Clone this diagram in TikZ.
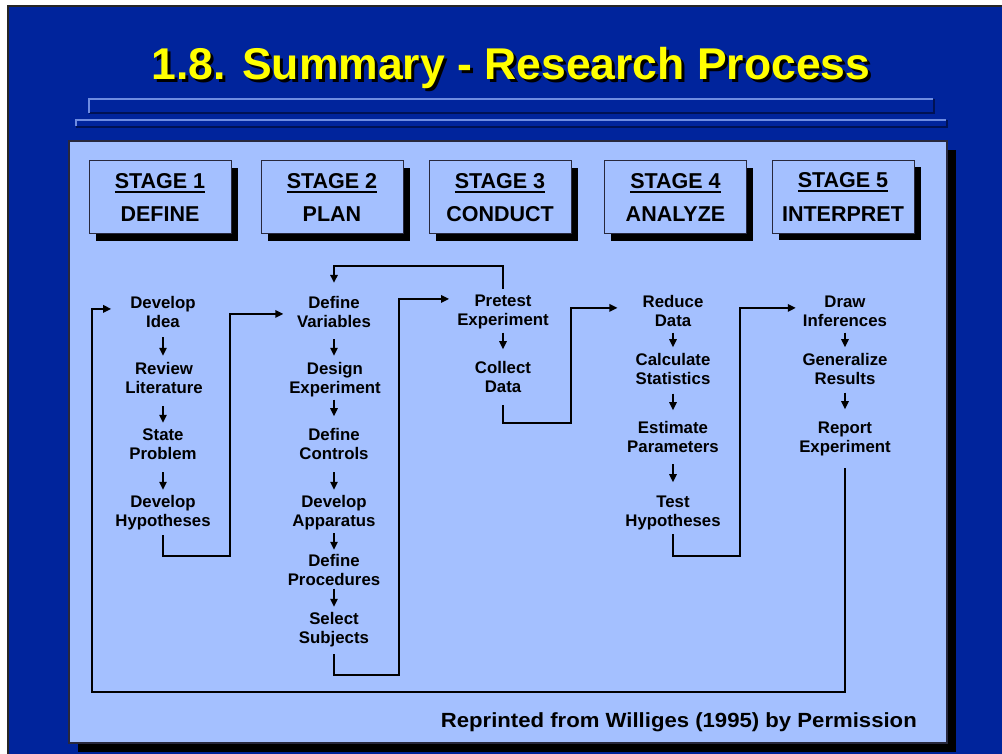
\documentclass[tikz,border=0pt]{standalone}
\usepackage{fontspec}
\setmainfont{Liberation Sans}
\usetikzlibrary{arrows.meta,calc,shadows}

\definecolor{slideblue}{RGB}{0,36,156}
\definecolor{panelblue}{RGB}{164,192,255}
\definecolor{titleyellow}{RGB}{255,255,0}
\definecolor{rulehi}{RGB}{110,140,225}
\definecolor{rulelo}{RGB}{0,18,85}
\definecolor{edgegray}{RGB}{40,40,60}

% underline drawn as a thick rule under the stage number
\newcommand\stageul[1]{\setbox0=\hbox{#1}\rlap{\rule[-4.6pt]{\wd0}{2.2pt}}\box0}
% two centred lines of equal height for the process steps
\newcommand\twol[2]{\strut#1\\\strut#2}

\begin{document}
\begin{tikzpicture}[x=1pt,y=-1pt,
  flow/.style={font=\bfseries\fontsize{16.8}{19.5}\selectfont, align=center, inner sep=0pt},
  stagebox/.style={draw=edgegray, line width=1pt, fill=panelblue,
    minimum width=142pt, minimum height=73pt, inner sep=0pt, align=center,
    font=\bfseries\fontsize{21.5}{33.4}\selectfont,
    drop shadow={shadow xshift=6.5pt, shadow yshift=-7pt, fill=black, opacity=1}},
  flowarr/.style={line width=1.5pt, -{Triangle[length=8pt,width=7.5pt]}},
  link/.style={line width=1.6pt, -{Triangle[length=8pt,width=7.5pt]}},
  hirule/.style={draw=rulehi, line width=1.4pt},
  lorule/.style={draw=rulelo, line width=1.6pt}
]
\useasboundingbox (0,0) rectangle (1002,754);

% slide background and frame
\fill[white] (0,0) rectangle (1002,754);
\fill[slideblue] (8,6) rectangle (1002,754);
\draw[black!85, line width=1.5pt] (8,754) -- (8,6) -- (1002,6);

% title with drop shadow
\node[anchor=base, text=black, font=\bfseries\fontsize{44.5}{50}\selectfont] at (514,83) {1.8. Summary - Research Process};
\node (title) [anchor=base, text=titleyellow, font=\bfseries\fontsize{44.5}{50}\selectfont] at (511,80) {1.8. Summary - Research Process};

% embossed rules under the title
\draw[lorule] (89,113) -- (934,113) -- (934,99);
\draw[hirule] (89,113) -- (89,99) -- (933,99);
\draw[lorule] (76,127) -- (947,127) -- (947,120);
\draw[hirule] (76,126) -- (76,120) -- (946,120);

% content panel
\fill[black] (78,150) rectangle (956,752);
\draw[fill=panelblue, draw=edgegray, line width=1.5pt] (69,141) rectangle (947,743);

% stage headers
\node[stagebox] (s1) at (160,197.5) {\stageul{STAGE 1}\\DEFINE};
\node[stagebox] (s2) at (332,197.5) {\stageul{STAGE 2}\\PLAN};
\node[stagebox] (s3) at (500,197.5) {\stageul{STAGE 3}\\CONDUCT};
\node[stagebox] (s4) at (675.5,197.5) {\stageul{STAGE 4}\\ANALYZE};
\node[stagebox] (s5) at (843,197) {\stageul{STAGE 5}\\INTERPRET};

% stage 1 steps
\node[flow] (idea) at (163,313.9) {\twol{Develop}{Idea}};
\node[flow] (lit)  at (164,379.9) {\twol{Review}{Literature}};
\node[flow] (prob) at (163,445.9) {\twol{State}{Problem}};
\node[flow] (hyp1) at (163,512.9) {\twol{Develop}{Hypotheses}};

% stage 2 steps
\node[flow] (var)    at (334,313.9) {\twol{Define}{Variables}};
\node[flow] (design) at (335,379.9) {\twol{Design}{Experiment}};
\node[flow] (ctrl)   at (334,445.9) {\twol{Define}{Controls}};
\node[flow] (app)    at (334,512.9) {\twol{Develop}{Apparatus}};
\node[flow] (proc)   at (334,571.9) {\twol{Define}{Procedures}};
\node[flow] (subj)   at (334,629.9) {\twol{Select}{Subjects}};

% stage 3 steps
\node[flow] (pre)  at (503,311.9) {\twol{Pretest}{Experiment}};
\node[flow] (data) at (503,378.9) {\twol{Collect}{Data}};

% stage 4 steps
\node[flow] (red)  at (673,312.9) {\twol{Reduce}{Data}};
\node[flow] (stat) at (673,370.9) {\twol{Calculate}{Statistics}};
\node[flow] (est)  at (673,438.9) {\twol{Estimate}{Parameters}};
\node[flow] (test) at (673,512.9) {\twol{Test}{Hypotheses}};

% stage 5 steps
\node[flow] (inf) at (845,312.9) {\twol{Draw}{Inferences}};
\node[flow] (gen) at (845,370.9) {\twol{Generalize}{Results}};
\node[flow] (rep) at (845,438.9) {\twol{Report}{Experiment}};

% arrows within each stage
\draw[flowarr, shorten <=3.7pt, shorten >=4.4pt] (idea.south) -- (idea.south |- lit.north);
\draw[flowarr, shorten <=6.6pt, shorten >=3.4pt] (lit.south -| prob.south) -- (prob.north);
\draw[flowarr, shorten <=6.6pt, shorten >=3.4pt] (prob.south) -- (hyp1.north);

\draw[flowarr, shorten <=5.6pt, shorten >=4.4pt] (var.south) -- (var.south |- design.north);
\draw[flowarr, shorten <=0pt, shorten >=10pt] (design.south -| ctrl.north) -- (ctrl.north);
\draw[flowarr, shorten <=6.6pt, shorten >=3.4pt] (ctrl.south) -- (app.north);
\draw[flowarr, shorten <=0.6pt, shorten >=2.4pt] (app.south) -- (proc.north);
\draw[flowarr, shorten <=-3pt, shorten >=3.4pt] (proc.south) -- (subj.north);

\draw[flowarr, shorten <=1pt, shorten >=10pt] (pre.south) -- (data.north);

\draw[flowarr, shorten <=0pt, shorten >=4pt] (red.south) -- (stat.north);
\draw[flowarr, shorten <=3pt, shorten >=9pt] (stat.south) -- (est.north);
\draw[flowarr, shorten <=5.6pt, shorten >=11pt] (est.south) -- (test.north);

\draw[flowarr, shorten <=0pt, shorten >=4pt] (inf.south) -- (gen.north);
\draw[flowarr, shorten <=2pt, shorten >=10pt] (gen.south) -- (rep.north);

% connectors between stages
\coordinate (k1) at (230,556);
\coordinate (k2) at (399,675);
\coordinate (k3) at (571,423);
\coordinate (k4) at (740,556);
\coordinate (k5) at (92,692);
\coordinate (k6) at (503,266);

\draw[link, shorten <=2.6pt, shorten >=13.6pt] (hyp1.south) |- (k1) |- (var.west);
\draw[link, shorten <=4.6pt] (subj.south) |- (k2) |- ($(pre.west)+(-8,-13)$);
\draw[link, shorten <=6.6pt] (data.south) |- (k3) |- ($(red.west)+(-25,-5)$);
\draw[link, shorten <=1.7pt] (test.south) |- (k4) |- ($(inf.west)+(-7,-5)$);
\draw[link, shorten <=9.6pt] (rep.south) |- (k5) |- ($(idea.west)+(-19,-5)$);
\draw[link, shorten <=3.4pt, shorten >=11.4pt] (pre.north) -- (k6) -| (var.north);

% credit line
\node (credit) [anchor=base east, inner sep=0pt] at (917,727)
  {\scalebox{1.08}[1]{\bfseries\fontsize{20.5}{24}\selectfont Reprinted from Williges (1995) by Permission}};
\end{tikzpicture}
\end{document}
